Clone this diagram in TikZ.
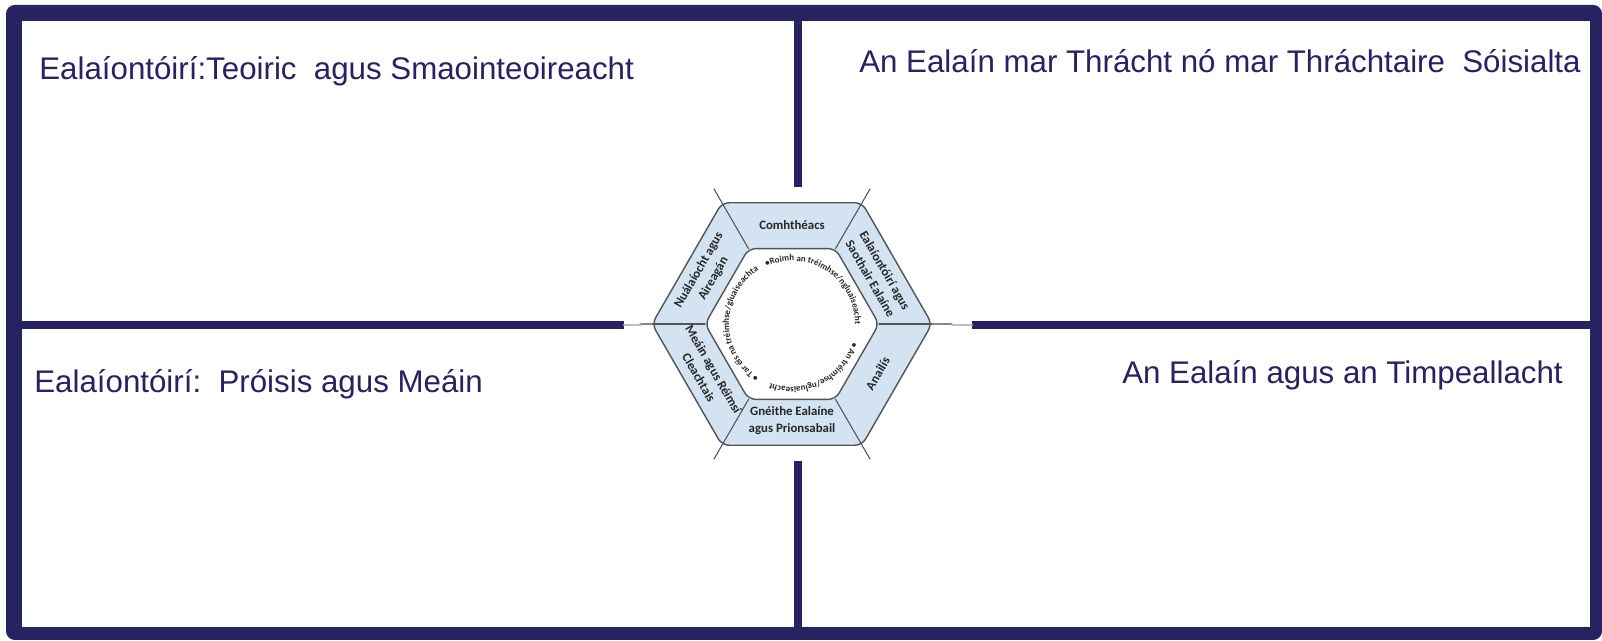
\documentclass[tikz,border=0pt]{standalone}
\usepackage{fontspec}
\setmainfont{Liberation Sans}
\newfontfamily\hexfont{Carlito}
\usepackage{tikz}
\usetikzlibrary{decorations.text}
\usetikzlibrary{positioning}
\definecolor{framenavy}{rgb}{0.153, 0.133, 0.384}
\definecolor{bandblue}{rgb}{0.83, 0.89, 0.945}
\definecolor{hexgray}{rgb}{0.32, 0.33, 0.35}
\definecolor{linkgray}{rgb}{0.74, 0.74, 0.74}

\tikzset{
  quadtitle/.style={text=framenavy, font=\fontsize{17.8}{20}\selectfont, inner sep=0pt},
  segtext/.style={align=center, text=black!85, inner sep=0pt,
    font=\hexfont\bfseries\fontsize{7.3}{9.6}\selectfont},
  ringtext/.style={decorate, decoration={text along path, text align=left, text color=black!85}},
  hexline/.style={draw=hexgray, line width=0.8pt, rounded corners=4pt},
}
\newcommand{\ringfont}{\hexfont\bfseries\fontsize{5.1}{6}\selectfont}

\begin{document}
\begin{tikzpicture}[line cap=round,line join=round,x=0.02cm,y=0.02cm]
\useasboundingbox (0,0) rectangle (1602,641);
% frame and dividing bars
\fill [color=framenavy, rounded corners=5pt] (6,1) rectangle (1602,636);
\fill [color=white] (22,14) rectangle (1590,620);
\fill [color=framenavy] (794,620) rectangle (802,454);
\fill [color=framenavy] (794,180) rectangle (802,14);
\fill [color=framenavy] (22,312) rectangle (624,320);
\fill [color=framenavy] (972,312) rectangle (1590,320);
\coordinate (barL) at (624,316);
\coordinate (barR) at (972,316);
\coordinate (c) at (792,317);
% hexagon
\path [hexline, fill=bandblue] (c) +(0:140) -- +(60:140) -- +(120:140) -- +(180:140) -- +(240:140) -- +(300:140) -- cycle;
\path [hexline, fill=white] (c) +(0:87) -- +(60:87) -- +(120:87) -- +(180:87) -- +(240:87) -- +(300:87) -- cycle;
\foreach \a in {60,120,240,300}
  \draw [hexgray, line width=0.6pt] (c) +(\a:87) -- +(\a:156);
\draw [hexgray, line width=0.6pt] (c) +(0:87) -- +(0:140);
\draw [hexgray, line width=0.6pt] (c) +(180:87) -- +(180:140);
\draw [hexgray!70, line width=0.7pt] (c) +(180:140) -- +(180:152);
\draw [hexgray!70, line width=0.7pt] (c) +(0:140) -- +(0:160);
\draw [linkgray, line width=1.6pt] (barL) -- ++(17,0);
\draw [linkgray, line width=1.6pt] (barR) -- ++(-20,0);
% band labels
\path (c) +(90:99) node [segtext] (comh) {Comhthéacs};
\path (c) +(30:99) node [segtext, rotate=-60] (ealS) {Ealaíontóirí agus\\Saothair Ealaíne};
\path (c) +(-30:99) node [segtext, rotate=60] (anal) {Anailís};
\path (c) +(-90:97) node [segtext] (gneith) {Gnéithe Ealaíne\\agus Prionsabail};
\path (c) +(210:99) node [segtext, rotate=-60] (meain) {Meáin agus Réimsí\\Cleachtais};
\path (c) +(150:99) node [segtext, rotate=60] (nual) {Nuálaíocht agus\\Aireagán};
% ring texts
\path [ringtext, decoration={text={|\ringfont|•Roimh an tréimhse/ngluaiseacht}}]
  (c) +(114:63) arc [start angle=114, end angle=-14, radius=63];
\path [ringtext, decoration={text={|\ringfont|• An tréimhse/ngluaiseacht}}]
  (c) +(-17:63) arc [start angle=-17, end angle=-140, radius=63];
\path [ringtext, decoration={text={|\ringfont|• Tar éis na tréimhse/gluaiseachta}}]
  (c) +(238:63) arc [start angle=238, end angle=104, radius=63];
% quadrant titles
\node [quadtitle, anchor=base west] (teoiric) at (39,561) {Ealaíontóirí:Teoiric\ \ agus Smaointeoireacht};
\node [quadtitle, anchor=base east] (trachtaire) at (1581,568) {An Ealaín mar Thrácht nó mar Thráchtaire\ \ Sóisialta};
\node [quadtitle, anchor=base west] (proisis) at (34,248) {Ealaíontóirí:\ \ Próisis agus Meáin};
\node [quadtitle, anchor=base east] (timp) at (1563,257) {An Ealaín agus an Timpeallacht};
\end{tikzpicture}
\end{document}
